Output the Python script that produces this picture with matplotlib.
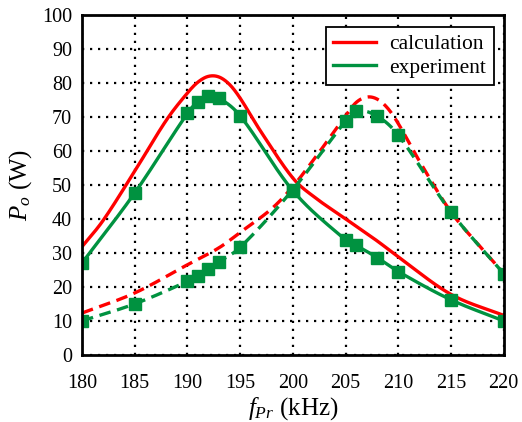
import numpy as np
import matplotlib
matplotlib.use("Agg")
import matplotlib.pyplot as plt

plt.rcParams['font.family'] = 'serif'
plt.rcParams['font.serif'] = ['Liberation Serif', 'Times New Roman', 'DejaVu Serif']
plt.rcParams['mathtext.fontset'] = 'custom'
plt.rcParams['mathtext.rm'] = 'Liberation Serif'
plt.rcParams['mathtext.it'] = 'Liberation Serif:italic'

# DATA
# calculation, left resonance (solid)
calc1_f = [180, 182, 185, 188, 190, 191, 192, 193, 194, 195, 197, 200, 202, 205, 208, 210, 215, 220]
calc1_p = [31.8, 39.5, 54, 69, 77, 80.2, 81.9, 81.7, 79.5, 75.5, 65.5, 52, 46.5, 40, 33.5, 28.8, 17.8, 11.6]
# calculation, right resonance (dashed)
calc2_f = [180, 185, 190, 193, 195, 198, 200, 202, 204, 205, 206, 207, 208, 209, 210, 212, 215, 218, 220]
calc2_p = [12.3, 18.2, 26.5, 31.5, 36, 43, 49.5, 57.5, 66, 70.3, 74.2, 75.8, 75.2, 72.5, 68, 57, 42, 31, 24]
# experiment, left resonance (solid)
exp1_f = [180, 185, 190, 191, 192, 193, 195, 200, 205, 206, 208, 210, 215, 220]
exp1_p = [27, 47.6, 71, 74.5, 76, 75.5, 70.3, 48.3, 33.8, 32.2, 28.6, 24.5, 16.2, 10]
# experiment, right resonance (dashed)
exp2_f = [180, 185, 190, 191, 192, 193, 195, 200, 205, 206, 208, 210, 215, 220]
exp2_p = [10, 15, 21.6, 23.3, 25.3, 27.4, 31.6, 48.6, 68.8, 71.8, 70.2, 64.6, 42, 23.9]

RED = '#FF0000'
GREEN = '#009240'


def smooth(x, y, n=30):
    # smoothed line through the points (cubic Hermite, tangents from neighbours)
    x = np.asarray(x, float)
    y = np.asarray(y, float)
    m = np.empty_like(y)
    m[1:-1] = (y[2:] - y[:-2]) / (x[2:] - x[:-2])
    m[0] = (y[1] - y[0]) / (x[1] - x[0])
    m[-1] = (y[-1] - y[-2]) / (x[-1] - x[-2])
    xs, ys = [], []
    t = np.linspace(0, 1, n, endpoint=False)
    for i in range(len(x) - 1):
        h = x[i+1] - x[i]
        h00 = 2*t**3 - 3*t**2 + 1
        h10 = t**3 - 2*t**2 + t
        h01 = -2*t**3 + 3*t**2
        h11 = t**3 - t**2
        xs.extend(x[i] + t*h)
        ys.extend(h00*y[i] + h10*h*m[i] + h01*y[i+1] + h11*h*m[i+1])
    xs.append(x[-1])
    ys.append(y[-1])
    return xs, ys


fig = plt.figure(figsize=(5.22, 4.22), dpi=100)
ax = fig.add_axes([0.157, 0.159, 0.808, 0.806])

lw = 2.4
dash = (0, (3.5, 2))

ax.plot(*smooth(calc1_f, calc1_p), color=RED, lw=lw, label='calculation', zorder=3)
ax.plot(*smooth(exp1_f, exp1_p), color=GREEN, lw=lw, label='experiment', zorder=4)
ax.plot(exp1_f, exp1_p, 's', color=GREEN, ms=8.5, zorder=5)
ax.plot(*smooth(calc2_f, calc2_p), color=RED, lw=lw, ls=dash, zorder=3)
ax.plot(*smooth(exp2_f, exp2_p), color=GREEN, lw=lw, ls=dash, zorder=4)
ax.plot(exp2_f, exp2_p, 's', color=GREEN, ms=8.5, zorder=5)

ax.set_xlim(180, 220)
ax.set_ylim(0, 100)
ax.set_xticks(np.arange(180, 221, 5))
ax.set_yticks(np.arange(0, 101, 10))
ax.tick_params(length=0, labelsize=14.5)
ax.tick_params(axis='x', pad=14)
ax.tick_params(axis='y', pad=7)
ax.grid(True, color='black', ls=(0, (1, 2.6)), lw=1.6)
for s in ax.spines.values():
    s.set_linewidth(2)
    s.set_zorder(6)

ax.set_xlabel(r'$f_{Pr}$ (kHz)', fontsize=18, labelpad=1)
ax.set_ylabel(r'$P_o$ (W)', fontsize=18, labelpad=6)

leg = ax.legend(loc='upper right', fontsize=15.5, fancybox=False, framealpha=1,
                edgecolor='black', borderpad=0.35, handlelength=2.0, labelspacing=0.15,
                handletextpad=0.6, borderaxespad=0, bbox_to_anchor=(0.976, 0.965))
leg.get_frame().set_linewidth(1.3)

fig.savefig('out.png', dpi=100)
